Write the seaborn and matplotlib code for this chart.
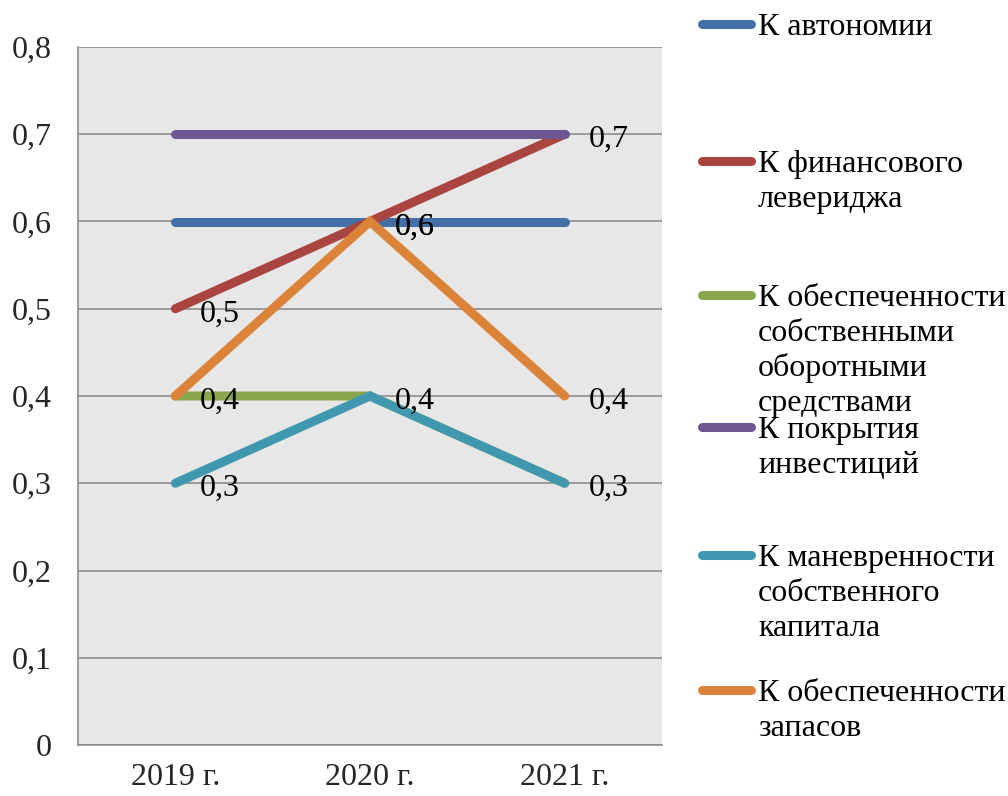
import matplotlib
matplotlib.use("Agg")
import matplotlib.pyplot as plt
from matplotlib.lines import Line2D
from matplotlib.ticker import FuncFormatter, FixedLocator, MultipleLocator
import pandas as pd
import seaborn as sns

# ---- data -------------------------------------------------------------
years = ["2019 г.", "2020 г.", "2021 г."]

series_names = [
    "К автономии",
    "К финансового левериджа",
    "К обеспеченности собственными оборотными средствами",
    "К покрытия инвестиций",
    "К маневренности собственного капитала",
    "К обеспеченности запасов",
]
k_autonomy = [0.6, 0.6, 0.6]
k_leverage = [0.5, 0.6, 0.7]
k_own_working_capital = [0.4, 0.4, 0.3]
k_investment_cover = [0.7, 0.7, 0.7]
k_maneuverability = [0.3, 0.4, 0.3]
k_inventory_cover = [0.4, 0.6, 0.4]
series_values = [k_autonomy, k_leverage, k_own_working_capital,
                 k_investment_cover, k_maneuverability, k_inventory_cover]

# legend text, wrapped as in the legend column
legend_lines = [
    ["К автономии"],
    ["К финансового", "левериджа"],
    ["К обеспеченности", "собственными", "оборотными", "средствами"],
    ["К покрытия", "инвестиций"],
    ["К маневренности", "собственного", "капитала"],
    ["К обеспеченности", "запасов"],
]

# series that carry value labels
labelled_series = ["К финансового левериджа",
                   "К маневренности собственного капитала",
                   "К обеспеченности запасов"]

colors = ["#4470a8", "#aa4441", "#88a64b", "#6e5693", "#3f98b0", "#dc833a"]

df = pd.DataFrame(
    [(name, yr, v) for name, vals in zip(series_names, series_values)
     for yr, v in zip(years, vals)],
    columns=["series", "year", "value"],
)

# ---- styling ----------------------------------------------------------
sns.set_style("white")
plt.rcParams["font.family"] = ["Liberation Serif", "DejaVu Serif"]
FS = 23
W, H = 1008, 796
GRID = "#868686"

fig = plt.figure(figsize=(W / 100, H / 100), dpi=100)
ax = fig.add_axes([78 / W, 1 - 745 / H, 584 / W, 698 / H])
ax.set_facecolor("#e7e7e7")

sns.lineplot(data=df, x="year", y="value", hue="series",
             hue_order=series_names, palette=colors, linewidth=6.5,
             sort=False, errorbar=None, legend=False, ax=ax)
for ln in ax.lines:
    ln.set_solid_capstyle("round")
    ln.set_solid_joinstyle("miter")
    ln.set_zorder(3)


def comma(v, _pos=None):
    return "0" if abs(v) < 1e-9 else f"{v:.1f}".replace(".", ",")


# value labels to the right of points
for name, vals in zip(series_names, series_values):
    if name not in labelled_series:
        continue
    for i, v in enumerate(vals):
        ax.annotate(comma(v), xy=(i, v), xytext=(17.5, -4),
                    textcoords="offset points", ha="left", va="center",
                    fontsize=FS, color="black", zorder=5)

# axes
ax.set_xlim(-0.5, 2.5)
ax.set_ylim(0, 0.8)
ax.yaxis.set_major_locator(MultipleLocator(0.1))
ax.yaxis.set_major_formatter(FuncFormatter(comma))
ax.xaxis.set_minor_locator(FixedLocator([-0.5, 0.5, 1.5, 2.5]))
ax.tick_params(axis="x", which="major", length=0, pad=13, labelsize=FS)
ax.tick_params(axis="x", which="minor", length=5.8, width=1.1,
               color=GRID, direction="out")
ax.tick_params(axis="y", which="major", length=5.8, width=1.1,
               color=GRID, direction="out", pad=13, labelsize=FS)
ax.yaxis.grid(True, color=GRID, linewidth=1.1)
ax.xaxis.grid(False)
ax.set_axisbelow(True)
for side in ("top", "right"):
    ax.spines[side].set_visible(False)
for side in ("left", "bottom"):
    ax.spines[side].set_color(GRID)
    ax.spines[side].set_linewidth(1.1)
ax.set_xlabel("")
ax.set_ylabel("")

# legend column on the right
legend_y = [24, 161, 295, 427, 555, 690]
for lines, color, y in zip(legend_lines, colors, legend_y):
    fig.add_artist(Line2D([701.5 / W, 750.5 / W], [1 - y / H] * 2,
                          transform=fig.transFigure, color=color,
                          linewidth=6.5, solid_capstyle="round"))
    for j, txt in enumerate(lines):
        fig.text(758 / W, 1 - (y + 11 + 35 * j) / H, txt,
                 ha="left", va="baseline", fontsize=FS, color="black")

fig.savefig("out.png", dpi=100, facecolor="white")
